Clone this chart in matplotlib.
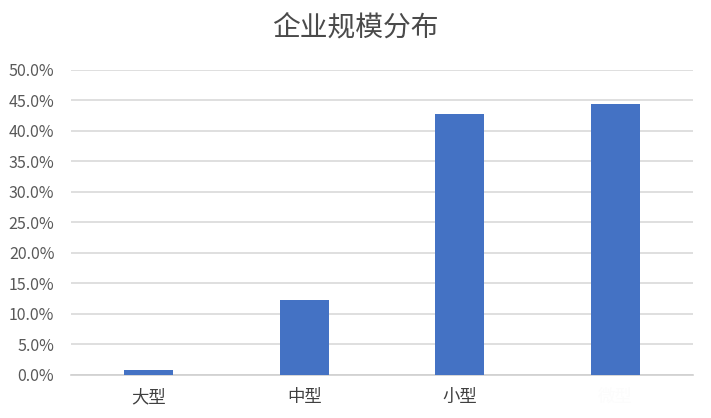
import matplotlib
matplotlib.use('Agg')
import matplotlib.pyplot as plt
from matplotlib.ticker import PercentFormatter

plt.rcParams['font.family'] = ['Noto Sans CJK SC', 'DejaVu Sans']

# 数据
categories = ['大型', '中型', '小型', '微型']
shares = [0.008, 0.122, 0.427, 0.443]
label_colors = ['#404040', '#404040', '#404040', '#fcfcfc']

fig = plt.figure(figsize=(7.11, 4.18), dpi=100)
ax = fig.add_axes([0.0999, 0.104, 0.8748, 0.7297])

ax.bar(categories, shares, width=0.315, color='#4472C4', zorder=3)

ax.set_ylim(0, 0.5)
ax.set_xlim(-0.5, 3.5)
ax.set_yticks([i * 0.05 for i in range(11)])
ax.yaxis.set_major_formatter(PercentFormatter(1.0, decimals=1))
ax.grid(axis='y', color='#d9d9d9', linewidth=1.2, zorder=0)

for s in ['top', 'right', 'left']:
    ax.spines[s].set_visible(False)
ax.spines['bottom'].set_color('#d0d0d0')
ax.spines['bottom'].set_linewidth(1.2)

ax.tick_params(axis='y', length=0, labelsize=11.5, labelcolor='#595959', pad=12)
ax.tick_params(axis='x', length=0, labelsize=12.5, pad=10)
for lbl, c in zip(ax.get_xticklabels(), label_colors):
    lbl.set_color(c)

fig.suptitle('企业规模分布', fontsize=20, color='#4a4a4a', y=0.97)

fig.savefig('out.png', dpi=100)
